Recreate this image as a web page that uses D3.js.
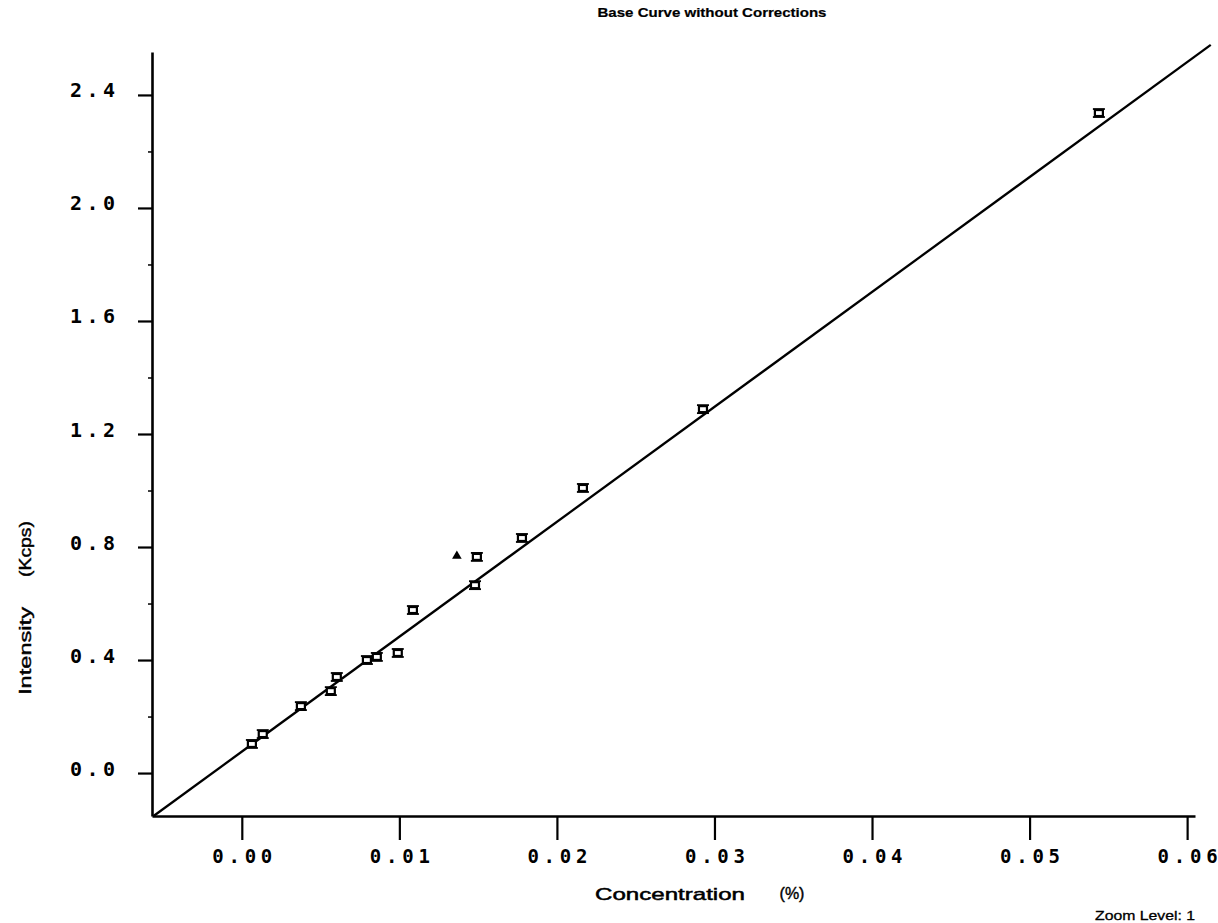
<!DOCTYPE html>
<html>
<head>
<meta charset="utf-8">
<script src="https://cdn.jsdelivr.net/npm/d3@7/dist/d3.min.js"></script>
<style>
  html, body { margin: 0; padding: 0; background: #fff; }
  svg { display: block; }
</style>
</head>
<body>
<svg id="chart" width="1218" height="923"></svg>
<script>
// ---- data ----
const concentration = [0.00064, 0.00133, 0.00375, 0.00565, 0.00603, 0.00794, 0.00857, 0.0099, 0.01086, 0.01365, 0.01492, 0.0148, 0.01778, 0.02165, 0.02927, 0.0544];
const intensity     = [0.103, 0.138, 0.237, 0.290, 0.340, 0.400, 0.411, 0.425, 0.577, 0.768, 0.765, 0.665, 0.832, 1.009, 1.288, 2.336];
const markerKind    = ["box","box","box","box","box","box","box","box","box","tri","box","box","box","box","box","box"];
const fitX = [-0.0056, 0.0615];
const fitY = [-0.152, 2.577];
const xTicks = [0, 0.01, 0.02, 0.03, 0.04, 0.05, 0.06];
const xTickLabels = ["0.00", "0.01", "0.02", "0.03", "0.04", "0.05", "0.06"];
const yTicks = [0, 0.4, 0.8, 1.2, 1.6, 2.0, 2.4];
const yTickLabels = ["0.0", "0.4", "0.8", "1.2", "1.6", "2.0", "2.4"];
const yMinorTicks = [0.2, 0.6, 1.0, 1.4, 1.8, 2.2];
const titleText = "Base Curve without Corrections";
const xLabelText = "Concentration";
const xUnitText = "(%)";
const yLabelText = "Intensity";
const yUnitText = "(Kcps)";
const zoomText = "Zoom Level: 1";

// ---- scales ----
const svg = d3.select("#chart");
const x = d3.scaleLinear().domain([-0.0057, 0.0605]).range([152, 1195]);
const y = d3.scaleLinear().domain([-0.152, 2.552]).range([816, 52]);

const ink = "#000";
const tickFont = "'DejaVu Sans Mono', monospace";
const labelFont = "'Liberation Sans', Arial, sans-serif";

// ---- axes ----
const xAxis = d3.axisBottom(x).tickValues(xTicks).tickFormat((d, i) => xTickLabels[i]).tickSize(24).tickSizeOuter(0);
const gx = svg.append("g").attr("transform", `translate(0,${y.range()[0]})`).call(xAxis);
gx.select(".domain").attr("stroke", ink).attr("stroke-width", 2.6);
gx.selectAll(".tick line").attr("stroke", ink).attr("stroke-width", 2.2);
gx.selectAll(".tick text")
  .attr("y", 47).attr("dy", 0)
  .attr("fill", ink)
  .style("font-family", tickFont).style("font-weight", "bold").style("font-size", "19px")
  .attr("textLength", 60).attr("lengthAdjust", "spacing");

const yAxis = d3.axisLeft(y).tickValues(yTicks).tickFormat((d, i) => yTickLabels[i]).tickSize(14).tickSizeOuter(0);
const gy = svg.append("g").attr("transform", `translate(${x.range()[0]},0)`).call(yAxis);
gy.select(".domain").attr("stroke", ink).attr("stroke-width", 2.6);
gy.selectAll(".tick line").attr("stroke", ink).attr("stroke-width", 2.2);
gy.selectAll(".tick text")
  .attr("x", -37).attr("dy", "0.1em")
  .attr("fill", ink)
  .style("font-family", tickFont).style("font-weight", "bold").style("font-size", "20px")
  .attr("textLength", 45).attr("lengthAdjust", "spacing");

const yMinor = d3.axisLeft(y).tickValues(yMinorTicks).tickFormat("").tickSize(4).tickSizeOuter(0);
const gym = svg.append("g").attr("transform", `translate(${x.range()[0]},0)`).call(yMinor);
gym.select(".domain").remove();
gym.selectAll(".tick line").attr("stroke", ink).attr("stroke-width", 1.5);

// ---- fit line ----
const line = d3.line().x(d => x(d[0])).y(d => y(d[1]));
svg.append("path")
  .datum(fitX.map((v, i) => [v, fitY[i]]))
  .attr("d", line)
  .attr("fill", "none").attr("stroke", ink).attr("stroke-width", 2.3);

// ---- points ----
const pts = concentration.map((c, i) => ({ c, v: intensity[i], k: markerKind[i] }));
const g = svg.append("g");
pts.forEach(p => {
  const px = x(p.c), py = y(p.v);
  if (p.k === "tri") {
    g.append("path")
      .attr("d", d3.symbol().type(d3.symbolTriangle).size(40)())
      .attr("transform", `translate(${px},${py})`)
      .attr("fill", ink);
  } else {
    const m = g.append("g").attr("transform", `translate(${px},${py})`);
    m.append("rect").attr("x", -4).attr("y", -3).attr("width", 8).attr("height", 6)
      .attr("fill", "#fff").attr("stroke", ink).attr("stroke-width", 2.2);
    m.append("line").attr("x1", -6).attr("x2", 6).attr("y1", -4).attr("y2", -4)
      .attr("stroke", ink).attr("stroke-width", 1.8);
    m.append("line").attr("x1", -6).attr("x2", 6).attr("y1", 4).attr("y2", 4)
      .attr("stroke", ink).attr("stroke-width", 1.8);
  }
});

// ---- texts ----
function thick(sel, w) { return sel.attr("stroke", ink).attr("stroke-width", w).attr("fill", ink); }

thick(svg.append("text").attr("x", 712).attr("y", 17).attr("text-anchor", "middle")
  .style("font-family", labelFont).style("font-weight", "bold").style("font-size", "13px")
  .attr("textLength", 229).attr("lengthAdjust", "spacingAndGlyphs")
  .text(titleText), 0.2);

thick(svg.append("text").attr("x", 670).attr("y", 900).attr("text-anchor", "middle")
  .style("font-family", labelFont).style("font-size", "17px")
  .attr("textLength", 150).attr("lengthAdjust", "spacingAndGlyphs")
  .text(xLabelText), 0.5);
thick(svg.append("text").attr("x", 792).attr("y", 899).attr("text-anchor", "middle")
  .style("font-family", labelFont).style("font-size", "16px")
  .text(xUnitText), 0.4);

thick(svg.append("text").attr("transform", "translate(31,651) rotate(-90)").attr("text-anchor", "middle")
  .style("font-family", labelFont).style("font-size", "17px")
  .attr("textLength", 88).attr("lengthAdjust", "spacingAndGlyphs")
  .text(yLabelText), 0.4);
thick(svg.append("text").attr("transform", "translate(31,549) rotate(-90)").attr("text-anchor", "middle")
  .style("font-family", labelFont).style("font-size", "17px")
  .attr("textLength", 56).attr("lengthAdjust", "spacingAndGlyphs")
  .text(yUnitText), 0.4);

thick(svg.append("text").attr("x", 1195).attr("y", 920).attr("text-anchor", "end")
  .style("font-family", labelFont).style("font-size", "13px")
  .attr("textLength", 100).attr("lengthAdjust", "spacingAndGlyphs")
  .text(zoomText), 0.3);
</script>
</body>
</html>
